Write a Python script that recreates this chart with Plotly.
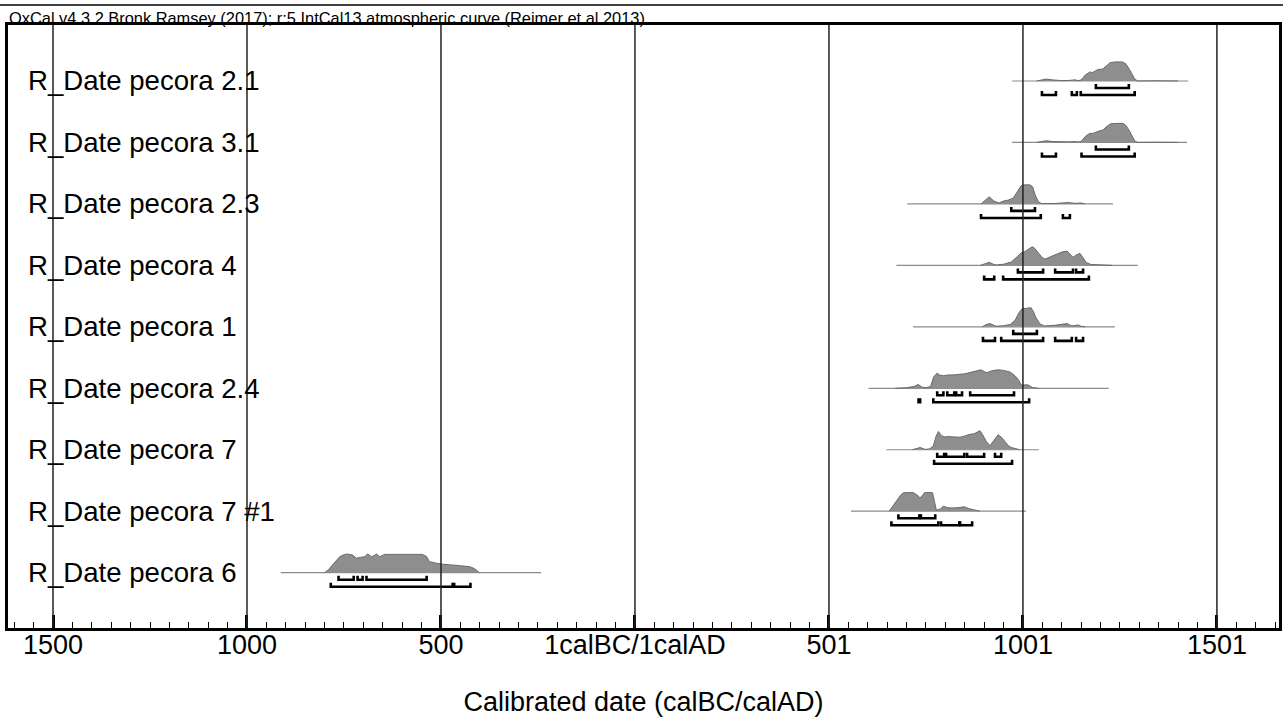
import plotly.graph_objects as go

# ---------------- data ----------------
labels = ["R_Date pecora 2.1", "R_Date pecora 3.1", "R_Date pecora 2.3", "R_Date pecora 4",
          "R_Date pecora 1", "R_Date pecora 2.4", "R_Date pecora 7", "R_Date pecora 7 #1",
          "R_Date pecora 6"]

# span of the plotted likelihood baseline (calendar years, BC negative)
span_start = [972, 972, 702, 674, 717, 602, 648, 557, -913]
span_end = [1426, 1423, 1232, 1296, 1237, 1221, 1041, 1008, -242]

p21_years = [1035, 1047, 1060, 1075, 1100, 1120, 1134, 1142, 1150, 1160, 1172, 1180, 1193, 1206,
             1215, 1224, 1237, 1257, 1265, 1275, 1288, 1296, 1340, 1380, 1400]
p21_prob = [0, 0.05, 0.1, 0.06, 0.02, 0.03, 0.06, 0.02, 0.05, 0.3, 0.47, 0.45, 0.6, 0.63,
            0.8, 0.95, 1.0, 1.0, 0.9, 0.6, 0.1, 0.0, 0.01, 0.01, 0]

p31_years = [1035, 1047, 1060, 1075, 1100, 1120, 1134, 1142, 1150, 1160, 1172, 1180, 1193, 1206,
             1215, 1226, 1240, 1258, 1266, 1276, 1288, 1296, 1340, 1380, 1400]
p31_prob = [0, 0.05, 0.09, 0.05, 0.02, 0.03, 0.05, 0.02, 0.05, 0.3, 0.48, 0.47, 0.58, 0.65,
            0.82, 0.98, 1.0, 1.0, 0.88, 0.55, 0.08, 0.0, 0.01, 0.01, 0]

p23_years = [892, 905, 913, 925, 938, 950, 962, 975, 988, 995, 1003, 1018, 1025, 1031, 1040,
             1048, 1080, 1100, 1116, 1135, 1150, 1160]
p23_prob = [0, 0.25, 0.37, 0.15, 0.05, 0.15, 0.2, 0.3, 0.7, 0.95, 1.0, 1.0, 0.9, 0.5, 0.1,
            0.02, 0.02, 0.05, 0.07, 0.03, 0.05, 0]

p4_years = [890, 905, 913, 925, 931, 950, 970, 985, 995, 1005, 1015, 1024, 1030, 1039, 1050,
            1057, 1070, 1082, 1100, 1114, 1122, 1129, 1138, 1147, 1155, 1163, 1175, 1211, 1230]
p4_prob = [0, 0.12, 0.16, 0.05, 0.02, 0.06, 0.18, 0.45, 0.65, 0.72, 0.85, 0.98, 0.9, 0.65,
           0.4, 0.33, 0.45, 0.55, 0.7, 0.75, 0.6, 0.42, 0.55, 0.63, 0.4, 0.15, 0.05, 0.02, 0]

p1_years = [895, 905, 915, 925, 931, 950, 967, 980, 990, 998, 1010, 1021, 1027, 1033, 1044,
            1055, 1082, 1100, 1114, 1122, 1129, 1142, 1150, 1160]
p1_prob = [0, 0.12, 0.17, 0.06, 0.03, 0.06, 0.12, 0.35, 0.75, 0.95, 0.97, 1.0, 0.8, 0.5, 0.15,
           0.05, 0.08, 0.12, 0.17, 0.08, 0.05, 0.1, 0.03, 0]

p24_years = [671, 700, 720, 730, 740, 750, 762, 770, 779, 785, 795, 807, 820, 837, 850, 858,
             875, 892, 900, 907, 920, 936, 950, 967, 980, 990, 995, 1003, 1013, 1025, 1040]
p24_prob = [0, 0.03, 0.1, 0.2, 0.06, 0.03, 0.1, 0.6, 0.8, 0.7, 0.66, 0.7, 0.7, 0.72, 0.76,
            0.8, 0.88, 0.97, 0.88, 0.82, 0.92, 0.97, 0.94, 0.85, 0.65, 0.4, 0.17, 0.16, 0.18,
            0.04, 0]

p7_years = [715, 728, 735, 748, 760, 769, 776, 782, 790, 797, 807, 825, 838, 850, 858, 875,
            889, 896, 905, 915, 925, 936, 945, 954, 962, 970, 980, 992]
p7_prob = [0, 0.06, 0.12, 0.02, 0.05, 0.2, 0.7, 0.96, 0.75, 0.67, 0.69, 0.67, 0.66, 0.72,
           0.78, 0.85, 1.0, 0.8, 0.45, 0.21, 0.5, 0.79, 0.65, 0.42, 0.22, 0.12, 0.05, 0]

p71_years = [655, 665, 674, 685, 692, 705, 717, 727, 735, 742, 746, 760, 767, 772, 777, 787,
             795, 805, 812, 830, 849, 860, 867, 880, 889]
p71_prob = [0, 0.3, 0.5, 0.85, 0.97, 0.98, 0.98, 0.85, 0.7, 0.85, 0.97, 0.98, 0.97, 0.5,
            0.05, 0.12, 0.26, 0.19, 0.17, 0.18, 0.23, 0.14, 0.1, 0.03, 0]

p6_years = [-800, -790, -782, -770, -761, -750, -743, -728, -718, -708, -697, -689, -679,
            -672, -666, -658, -645, -620, -589, -548, -537, -530, -512, -499, -480, -453,
            -440, -427, -414, -401]
p6_prob = [0, 0.15, 0.35, 0.62, 0.84, 0.94, 0.98, 0.93, 0.76, 0.8, 0.84, 0.98, 0.84, 0.9,
           0.98, 0.84, 0.96, 0.96, 0.96, 0.96, 0.85, 0.58, 0.5, 0.45, 0.42, 0.38, 0.36,
           0.32, 0.22, 0]

# 68.2% and 95.4% ranges
p21_68 = [(1188, 1273)]
p21_95 = [(1049, 1085), (1126, 1139), (1149, 1288)]
p31_68 = [(1188, 1273)]
p31_95 = [(1049, 1085), (1151, 1288)]
p23_68 = [(970, 1031)]
p23_95 = [(892, 1046), (1103, 1121)]
p4_68 = [(987, 1052), (1083, 1129), (1137, 1155)]
p4_95 = [(900, 926), (949, 1170)]
p1_68 = [(975, 1036)]
p1_95 = [(897, 928), (944, 1052), (1083, 1126), (1137, 1155)]
p24_68 = [(779, 795), (805, 823), (828, 843), (864, 977)]
p24_95 = [(731, 735), (769, 1016)]
p7_68 = [(779, 797), (802, 849), (856, 900), (928, 944)]
p7_95 = [(771, 972)]
p71_68 = [(679, 733), (737, 774)]
p71_95 = [(661, 782), (789, 836), (838, 869)]
p6_68 = [(-764, -725), (-715, -702), (-692, -537)]
p6_95 = [(-784, -470), (-466, -424)]

tick_vals = [-1500, -1000, -500, 0, 500, 1000, 1500]
tick_text = ["1500", "1000", "500", "1calBC/1calAD", "501", "1001", "1501"]

header = "OxCal v4.3.2 Bronk Ramsey (2017); r:5 IntCal13 atmospheric curve (Reimer et al 2013)"
x_title = "Calibrated date (calBC/calAD)"

# ---------------- assemble ----------------
dens_years = [p21_years, p31_years, p23_years, p4_years, p1_years, p24_years, p7_years,
              p71_years, p6_years]
dens_prob = [p21_prob, p31_prob, p23_prob, p4_prob, p1_prob, p24_prob, p7_prob, p71_prob,
             p6_prob]
ranges68 = [p21_68, p31_68, p23_68, p4_68, p1_68, p24_68, p7_68, p71_68, p6_68]
ranges95 = [p21_95, p31_95, p23_95, p4_95, p1_95, p24_95, p7_95, p71_95, p6_95]

PEAK = 0.31      # row units for a probability of 1
OFF68 = 0.114
OFF95 = 0.228
TICK = 0.065
FONT = "Liberation Sans, Arial, sans-serif"

fig = go.Figure()

for i, lab in enumerate(labels):
    # baseline
    fig.add_trace(go.Scatter(x=[span_start[i], span_end[i]], y=[i, i], mode="lines",
                             line=dict(color="#8c8c8c", width=1.2), hoverinfo="skip",
                             showlegend=False))
    # probability distribution
    fig.add_trace(go.Scatter(x=dens_years[i], y=[i - PEAK * p for p in dens_prob[i]],
                             mode="lines", fill="toself", fillcolor="#8e8e8e",
                             line=dict(color="#6a6a6a", width=1), name=lab,
                             showlegend=False))
    # range brackets
    for ranges, off in ((ranges68[i], OFF68), (ranges95[i], OFF95)):
        bx, by = [], []
        yb = i + off
        for s, e in ranges:
            bx += [s, s, e, e, None]
            by += [yb - TICK, yb, yb, yb - TICK, None]
        fig.add_trace(go.Scatter(x=bx, y=by, mode="lines",
                                 line=dict(color="black", width=2.6), hoverinfo="skip",
                                 showlegend=False))
    fig.add_annotation(x=-1570, y=i, xref="x", yref="y", text=lab, showarrow=False,
                       xanchor="left", yanchor="middle",
                       font=dict(family=FONT, size=27.6, color="black"))

# vertical grid lines above the distributions
for v in tick_vals:
    fig.add_shape(type="line", x0=v, x1=v, y0=0, y1=1, xref="x", yref="paper",
                  line=dict(color="#222222", width=1.5), layer="above")

# header rule and text
fig.add_shape(type="line", x0=-0.01, x1=1.01, y0=1.033, y1=1.033, xref="paper",
              yref="paper", line=dict(color="black", width=1.5))
fig.add_annotation(x=-0.001, y=1.011, xref="paper", yref="paper", text=header,
                   showarrow=False, xanchor="left", yanchor="middle",
                   font=dict(family="Liberation Sans Narrow, Arial Narrow, Liberation Sans",
                             size=16.4, color="black"))

fig.update_xaxes(range=[-1616, 1660], tickmode="array", tickvals=tick_vals,
                 ticktext=tick_text, ticks="inside", ticklen=13, tickwidth=3,
                 tickcolor="black", showline=True, linecolor="black", linewidth=3,
                 mirror=True, showgrid=False, zeroline=False, ticklabelstandoff=-9,
                 tickfont=dict(family=FONT, size=27, color="black"),
                 minor=dict(ticks="inside", ticklen=6, tickwidth=1, tickcolor="black",
                            tick0=0, dtick=50, showgrid=False),
                 title=dict(text=x_title, font=dict(family=FONT, size=27, color="black"),
                            standoff=36))
fig.update_yaxes(range=[8.90, -0.911], showticklabels=False, ticks="", showgrid=False,
                 zeroline=False, showline=True, linecolor="black", linewidth=3,
                 mirror=True)

fig.update_layout(width=1283, height=717, margin=dict(l=8, r=1, t=25, b=89),
                  plot_bgcolor="white", paper_bgcolor="white",
                  font=dict(family=FONT, color="black"), showlegend=False)

fig.write_html("out.html", config={"displayModeBar": False},
               post_script="document.body.style.margin='0';"
                           "document.body.style.overflow='hidden';")
